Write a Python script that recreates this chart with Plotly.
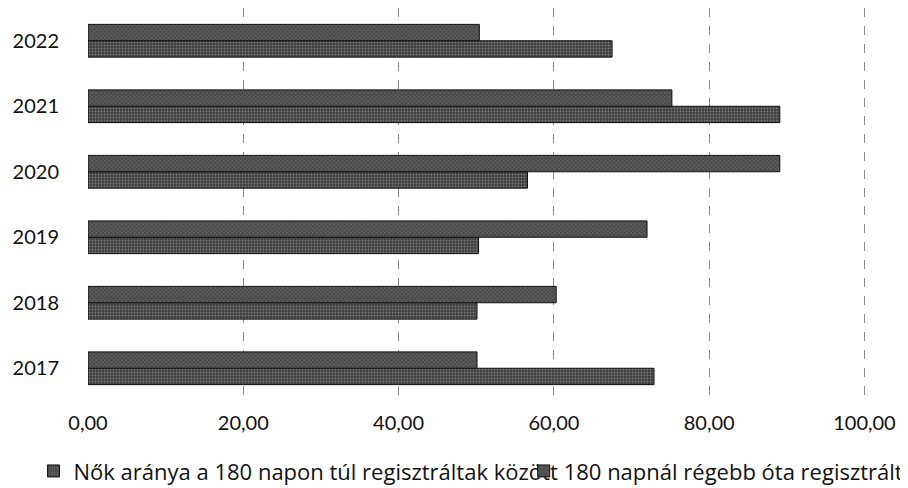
import plotly.graph_objects as go

years = ["2017", "2018", "2019", "2020", "2021", "2022"]
nok_aranya = [72.9, 50.1, 50.3, 56.6, 89.1, 67.5]        # Nők aránya a 180 napon túl regisztráltak között
regebb_ota = [50.1, 60.3, 72.0, 89.1, 75.2, 50.4]         # 180 napnál régebb óta regisztrált
tick_vals = [0, 20, 40, 60, 80, 100]
tick_text = ["0,00", "20,00", "40,00", "60,00", "80,00", "100,00"]
names = ["Nők aránya a 180 napon túl regisztráltak között", "180 napnál régebb óta regisztrált"]

FONT = "Lato"
LFONT = "Open Sans"

fig = go.Figure()
fig.add_trace(go.Bar(
    y=years, x=nok_aranya, orientation="h", name=names[0], legend="legend",
    marker=dict(color="#3e3e3e", line=dict(color="#111111", width=1),
                pattern=dict(shape=".", fgcolor="#b8b8b8", bgcolor="#3e3e3e", size=3, solidity=0.3)),
))
fig.add_trace(go.Bar(
    y=years, x=regebb_ota, orientation="h", name=names[1], legend="legend2",
    marker=dict(color="#4a4a4a", line=dict(color="#111111", width=1),
                pattern=dict(shape="x", fgcolor="#b0b0b0", bgcolor="#484848", size=3, solidity=0.25)),
))

legend_common = dict(orientation="h", xanchor="left", yanchor="top", itemwidth=30,
                     font=dict(family=LFONT, size=22, color="#111111"), bgcolor="rgba(0,0,0,0)")

fig.update_layout(
    width=908, height=488,
    margin=dict(l=80, r=50, t=0, b=95, autoexpand=False),
    barmode="group", bargap=0.5, bargroupgap=0,
    plot_bgcolor="white", paper_bgcolor="white",
    font=dict(family=FONT, size=20, color="#111111"),
    xaxis=dict(range=[0, 100.2], tickvals=tick_vals, ticktext=tick_text,
               showgrid=True, gridcolor="#8a8a8a", griddash="dash", gridwidth=1,
               zeroline=False, showline=False, ticks="", ticklabelstandoff=8,
               tickfont=dict(family=FONT, size=20)),
    yaxis=dict(categoryorder="array", categoryarray=years, showgrid=False,
               zeroline=False, showline=False, ticks="", ticklabelstandoff=28,
               tickfont=dict(family=FONT, size=20)),
    legend=dict(x=-0.07, y=-0.125, **legend_common),
    legend2=dict(x=0.56, y=-0.125, **legend_common),
    showlegend=True,
)

fig.write_html("out.html")
